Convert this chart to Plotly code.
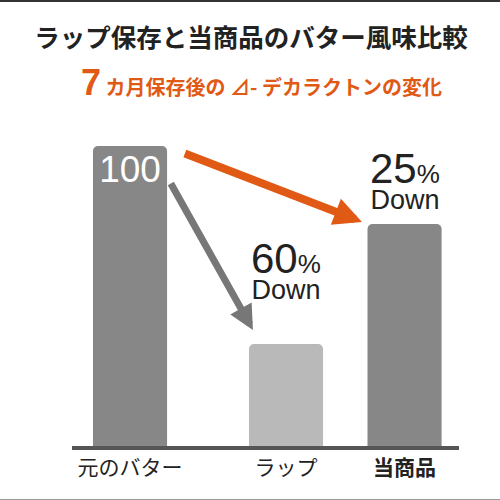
import plotly.graph_objects as go

# ---- data ----
categories = ["元のバター", "ラップ", "当商品"]
values = [100, 34, 74]
bar_colors = ["#878787", "#b9b9b9", "#878787"]
down_labels = ["60", "25"]          # % decrease labels for ラップ and 当商品
title_text = "ラップ保存と当商品のバター風味比較"
sub_num = "7"
sub_text = "カ月保存後の ⊿- デカラクトンの変化"

# layout positions (category slot positions on a numeric axis)
pos = [0, 1, 1.76]

ORANGE = "#e05a16"
GRAY_ARROW = "#777777"
TXT = "#222222"
CJK = "Noto Sans CJK JP"
NUMF = "Liberation Sans"

fig = go.Figure()
fig.add_trace(go.Bar(
    x=pos, y=values, width=0.475,
    marker=dict(color=bar_colors, line=dict(width=0), cornerradius=5),
    text=[str(values[0]), "", ""],
    textposition="inside", insidetextanchor="end",
    textfont=dict(family=NUMF, size=37, color="white"),
    hoverinfo="skip",
))

annotations = []
# subtitle
annotations.append(dict(
    x=0.49, y=1.103, xref="paper", yref="paper", showarrow=False,
    text=f"<span style='font-family:{NUMF};font-size:36px'><b>{sub_num}</b></span> <b>{sub_text}</b>",
    font=dict(family=CJK, size=20, color=ORANGE), xanchor="center", yanchor="middle",
))
# arrows
annotations.append(dict(
    x=1.487, y=74.7, ax=0.342, ay=97.7, xref="x", yref="y", axref="x", ayref="y",
    text="", showarrow=True, arrowhead=2, arrowsize=0.7, arrowwidth=8,
    arrowcolor=ORANGE, standoff=0,
))
annotations.append(dict(
    x=0.788, y=38.7, ax=0.256, ay=88, xref="x", yref="y", axref="x", ayref="y",
    text="", showarrow=True, arrowhead=2, arrowsize=0.7, arrowwidth=7,
    arrowcolor=GRAY_ARROW, standoff=0,
))
# % down labels (one text block each: number + % on line 1, "Down" on line 2)
for xi, lab, yc in [(pos[1], down_labels[0], 58.7), (pos[2], down_labels[1], 88.7)]:
    annotations.append(dict(
        x=xi, y=yc, xref="x", yref="y", showarrow=False,
        text=(f"<span style='font-size:42px'>{lab}</span>"
              f"<span style='font-size:26px'>%</span><br>"
              f"<span style='font-size:27px'>Down</span>"),
        font=dict(family=NUMF, size=20, color=TXT), xanchor="center", yanchor="middle",
    ))

ticktext = [categories[0], categories[1], f"<b>{categories[2]}</b>"]

fig.update_layout(
    width=500, height=500,
    margin=dict(l=72, r=41, t=116, b=54),
    paper_bgcolor="white", plot_bgcolor="white",
    showlegend=False,
    title=dict(text=f"<b>{title_text}</b>", x=0.502, xref="container", y=0.924, yref="container",
               xanchor="center", yanchor="middle",
               font=dict(family=CJK, size=25.5, color=TXT)),
    xaxis=dict(range=[-0.372, 2.109], showgrid=False, zeroline=False,
               showline=True, linewidth=4, linecolor="#555555",
               tickvals=pos, ticktext=ticktext, ticks="",
               tickfont=dict(family=CJK, size=21, color=TXT), fixedrange=True),
    yaxis=dict(range=[0, 110], showgrid=False, zeroline=False, showticklabels=False,
               showline=False, fixedrange=True),
    annotations=annotations,
)
# frame lines at top and bottom of the image
fig.add_shape(type="rect", xref="paper", yref="paper", x0=-72/387, x1=1+41/387,
              y0=1+114/330, y1=1+116/330, fillcolor="#333333", line=dict(width=0), layer="above")
fig.add_shape(type="rect", xref="paper", yref="paper", x0=-72/387, x1=1+41/387,
              y0=-54/330, y1=-53/330, fillcolor="#999999", line=dict(width=0), layer="above")

fig.write_html("out.html")
